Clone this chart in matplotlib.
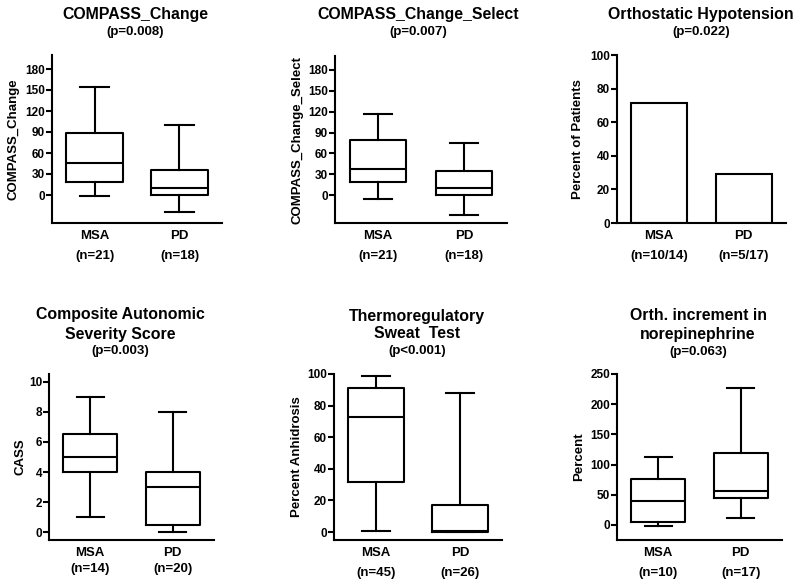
import matplotlib
matplotlib.use("Agg")
import matplotlib.pyplot as plt

plt.rcParams["font.family"] = ["Liberation Sans", "DejaVu Sans"]
plt.rcParams["font.weight"] = "bold"
plt.rcParams["axes.labelweight"] = "bold"

W, H = 800, 586

groups = ["MSA", "PD"]

# COMPASS_Change (box: whisker low, Q1, median, Q3, whisker high)
compass_n = ["(n=21)", "(n=18)"]
compass_lo = [-2, -24]
compass_q1 = [18.6, 0]
compass_med = [45.8, 9.5]
compass_q3 = [88.8, 35.8]
compass_hi = [155, 99.3]

# COMPASS_Change_Select
select_n = ["(n=21)", "(n=18)"]
select_lo = [-5.3, -28.2]
select_q1 = [18.7, 0]
select_med = [37.8, 10]
select_q3 = [80, 35]
select_hi = [117.3, 75.6]

# Orthostatic hypotension (percent of patients)
oh_n = ["(n=10/14)", "(n=5/17)"]
oh_pct = [71.4, 29.4]

# CASS
cass_n = ["(n=14)", "(n=20)"]
cass_lo = [1, 0]
cass_q1 = [4, 0.5]
cass_med = [5, 3]
cass_q3 = [6.5, 4]
cass_hi = [9, 8]

# Thermoregulatory sweat test
tst_n = ["(n=45)", "(n=26)"]
tst_lo = [1, 0]
tst_q1 = [32, 0]
tst_med = [73, 1]
tst_q3 = [91, 17]
tst_hi = [99, 88]

# Orthostatic increment in norepinephrine
ne_n = ["(n=10)", "(n=17)"]
ne_lo = [-2, 11.6]
ne_q1 = [5, 44.8]
ne_med = [40, 57]
ne_q3 = [76, 119]
ne_hi = [112, 227]

fig = plt.figure(figsize=(W / 100, H / 100), dpi=100)


def make_ax(left, right, top, bottom):
    ax = fig.add_axes([left / W, 1 - bottom / H, (right - left) / W, (bottom - top) / H])
    for s in ("top", "right"):
        ax.spines[s].set_visible(False)
    for s in ("left", "bottom"):
        ax.spines[s].set_linewidth(1.5)
    ax.set_xlim(0.5, 2.5)
    ax.tick_params(axis="y", direction="out", length=4, width=1.5, labelsize=8.5, pad=1)
    ax.tick_params(axis="x", length=0, labelsize=9.5, pad=5)
    return ax


def set_xlabels(ax, ns, spacing=1.9):
    ax.set_xticks([1, 2])
    ax.set_xticklabels([f"{g}\n{n}" for g, n in zip(groups, ns)], linespacing=spacing,
                       fontweight="bold")


def boxes(ax, lo, q1, med, q3, hi):
    stats = [dict(whislo=lo[i], q1=q1[i], med=med[i], q3=q3[i], whishi=hi[i])
             for i in range(2)]
    lp = dict(color="black", linewidth=1.5)
    ax.bxp(stats, positions=[1, 2], widths=0.66, showfliers=False,
           boxprops=lp, whiskerprops=lp, capprops=lp, medianprops=lp)


def titles(cx, lines, ys, sizes):
    for t, y, s in zip(lines, ys, sizes):
        fig.text(cx / W, 1 - y / H, t, ha="center", va="center", fontsize=s, fontweight="bold")


def ylabel(ax, text, xpix, left, right):
    ax.set_ylabel(text, fontsize=9.5, va="center")
    ax.yaxis.set_label_coords((xpix - left) / (right - left), 0.5)


# Panel 1
ax = make_ax(52, 222, 55, 223)
boxes(ax, compass_lo, compass_q1, compass_med, compass_q3, compass_hi)
ax.set_ylim(-40, 200)
ax.set_yticks(range(0, 181, 30))
set_xlabels(ax, compass_n)
ylabel(ax, "COMPASS_Change", 13, 52, 222)
titles(135, ["COMPASS_Change", "(p=0.008)"], [14, 32], [11.4, 9.5])

# Panel 2
ax = make_ax(335, 507, 56, 223)
boxes(ax, select_lo, select_q1, select_med, select_q3, select_hi)
ax.set_ylim(-40, 200)
ax.set_yticks(range(0, 181, 30))
set_xlabels(ax, select_n)
ylabel(ax, "COMPASS_Change_Select", 297, 335, 507)
titles(418, ["COMPASS_Change_Select", "(p=0.007)"], [14, 32], [11.4, 9.5])

# Panel 3
ax = make_ax(617, 786, 55, 223)
ax.bar([1, 2], oh_pct, width=0.66, color="white", edgecolor="black", linewidth=1.5)
ax.set_ylim(0, 100)
ax.set_yticks(range(0, 101, 20))
set_xlabels(ax, oh_n)
ylabel(ax, "Percent of Patients", 578, 617, 786)
titles(701, ["Orthostatic Hypotension", "(p=0.022)"], [14, 32], [11.4, 9.5])

# Panel 4
ax = make_ax(49, 214, 374, 540)
boxes(ax, cass_lo, cass_q1, cass_med, cass_q3, cass_hi)
ax.set_ylim(-0.5, 10.5)
ax.set_yticks(range(0, 11, 2))
set_xlabels(ax, cass_n, spacing=1.4)
ylabel(ax, "CASS", 20, 49, 214)
titles(120, ["Composite Autonomic", "Severity Score", "(p=0.003)"], [315, 334, 351], [11.4, 11.4, 9.5])

# Panel 5
ax = make_ax(334, 502, 374, 540)
boxes(ax, tst_lo, tst_q1, tst_med, tst_q3, tst_hi)
ax.set_ylim(-5, 100)
ax.set_yticks(range(0, 101, 20))
set_xlabels(ax, tst_n)
ylabel(ax, "Percent Anhidrosis", 297, 334, 502)
titles(417, ["Thermoregulatory", "Sweat  Test", "(p<0.001)"], [316, 334, 351], [11.4, 11.4, 9.5])

# Panel 6
ax = make_ax(617, 782, 374, 540)
boxes(ax, ne_lo, ne_q1, ne_med, ne_q3, ne_hi)
ax.set_ylim(-25, 250)
ax.set_yticks(range(0, 251, 50))
set_xlabels(ax, ne_n)
ylabel(ax, "Percent", 579, 617, 782)
titles(698, ["Orth. increment in", "norepinephrine", "(p=0.063)"], [316, 334, 352], [11.4, 11.4, 9.5])

fig.savefig("out.png", dpi=100)
